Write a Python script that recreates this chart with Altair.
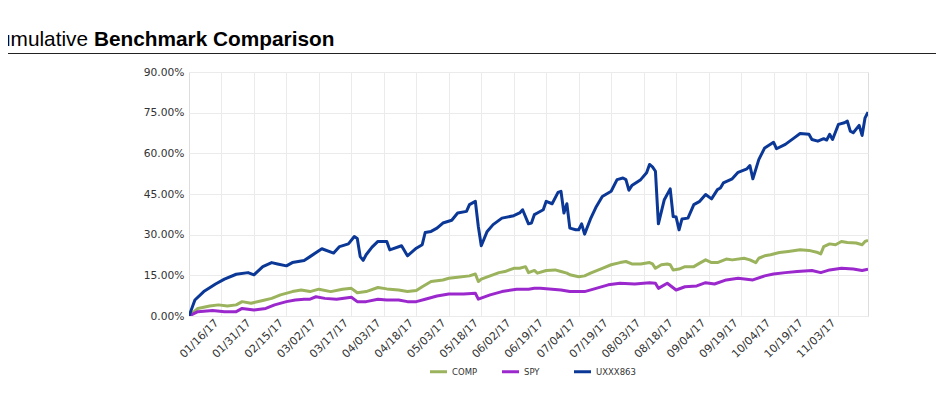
import altair as alt
import pandas as pd

# ---- data (x = trading-day index, y = cumulative %) ----
tick_labels = ["01/16/17", "01/31/17", "02/15/17", "03/02/17", "03/17/17", "04/03/17",
               "04/18/17", "05/03/17", "05/18/17", "06/02/17", "06/19/17", "07/04/17",
               "07/19/17", "08/03/17", "08/18/17", "09/04/17", "09/19/17", "10/04/17",
               "10/19/17", "11/03/17"]
tick_step = 11

series_names = ["COMP", "SPY", "UXXX863"]
series_colors = ["#9bb35c", "#9b28cc", "#0b3896"]

comp_idx = [0, 3, 7, 10, 13, 16, 18, 21, 25, 28, 31, 35, 38, 41, 44, 48, 52, 55, 57, 60,
            64, 67, 71, 74, 77, 79, 82, 86, 88, 91, 95, 97, 98, 99, 102, 105, 107, 110, 112,
            114, 115, 117, 118, 121, 124, 126, 128, 129, 132, 134, 136, 140, 143, 146, 148,
            150, 153, 156, 157, 158, 160, 162, 163, 164, 166, 168, 171, 173, 175, 177, 179,
            182, 184, 188, 190, 192, 193, 195, 197, 200, 203, 207, 210, 213, 214, 215, 217,
            219, 221, 223, 226, 228, 229, 230]
comp_val = [0.0, 2.8, 3.7, 4.1, 3.7, 4.1, 5.3, 4.7, 5.7, 6.5, 7.8, 9.0, 9.6, 9.0, 9.9, 9.0,
            9.9, 10.2, 8.6, 9.0, 10.5, 10.0, 9.6, 9.0, 9.4, 10.8, 12.7, 13.3, 13.9, 14.3, 14.8,
            15.5, 12.7, 13.6, 14.8, 16.0, 16.4, 17.6, 17.6, 18.2, 16.0, 16.8, 15.8, 16.8, 17.0,
            16.4, 15.8, 15.2, 14.5, 14.8, 15.8, 17.6, 18.9, 19.7, 20.1, 19.2, 19.2, 19.7, 19.2,
            17.6, 18.9, 19.2, 18.9, 17.0, 17.3, 18.2, 18.2, 19.5, 20.7, 19.7, 19.7, 21.0, 20.7,
            21.3, 20.7, 19.7, 21.3, 22.2, 22.6, 23.4, 23.8, 24.4, 24.2, 23.4, 22.9, 25.6, 26.6,
            26.3, 27.5, 27.1, 26.9, 26.3, 27.5, 27.9]

spy_idx = [0, 3, 8, 12, 16, 18, 22, 26, 29, 33, 36, 39, 41, 43, 46, 50, 55, 57, 60, 64, 67,
           71, 74, 77, 80, 84, 88, 93, 97, 98, 102, 106, 111, 115, 117, 119, 123, 126, 129,
           134, 137, 142, 146, 151, 156, 158, 159, 162, 165, 168, 172, 175, 178, 182, 186,
           191, 195, 198, 202, 206, 211, 214, 217, 221, 225, 228, 230]
spy_val = [0.0, 1.6, 2.0, 1.6, 1.6, 2.8, 2.2, 2.8, 4.1, 5.3, 5.9, 6.2, 6.2, 7.1, 6.5, 6.2,
           6.9, 5.3, 5.3, 6.2, 5.9, 5.9, 5.3, 5.3, 6.2, 7.4, 8.1, 8.1, 8.4, 6.2, 7.8, 9.0, 9.9,
           9.9, 10.2, 10.2, 9.9, 9.6, 9.0, 9.0, 9.9, 11.5, 12.1, 11.8, 12.3, 12.1, 10.2, 12.1,
           9.6, 10.8, 11.1, 12.3, 11.8, 13.3, 13.9, 13.3, 14.8, 15.5, 16.0, 16.4, 16.8, 16.0,
           17.0, 17.6, 17.3, 16.8, 17.3]

uxxx_idx = [0, 2, 5, 9, 12, 16, 20, 22, 25, 28, 30, 33, 35, 39, 41, 45, 49, 51, 54, 56, 57,
            58, 59, 60, 62, 64, 67, 68, 72, 74, 77, 79, 80, 82, 84, 86, 89, 91, 94, 95, 97,
            98, 99, 101, 103, 106, 110, 112, 113, 115, 116, 117, 118, 120, 121, 123, 125, 126,
            127, 128, 129, 131, 132, 133, 134, 136, 138, 140, 143, 145, 147, 148, 149, 150,
            153, 155, 156, 157, 158, 159, 161, 163, 164, 165, 166, 167, 169, 171, 173, 175,
            177, 179, 180, 181, 184, 186, 189, 190, 191, 193, 195, 198, 199, 202, 205, 207,
            210, 211, 213, 215, 216, 217, 218, 220, 222, 223, 224, 225, 227, 228, 229, 230]
uxxx_val = [0.0, 5.9, 9.0, 11.8, 13.6, 15.4, 16.0, 15.2, 18.2, 19.7, 19.2, 18.5, 19.7, 20.5,
            21.9, 24.8, 23.2, 25.6, 26.6, 29.3, 28.6, 21.9, 20.5, 22.6, 25.4, 27.5, 27.5, 24.4,
            25.9, 22.2, 25.0, 26.3, 30.8, 31.2, 32.4, 34.3, 35.3, 38.0, 38.6, 41.1, 42.3, 33.0,
            25.9, 31.2, 33.7, 36.1, 37.0, 38.0, 39.2, 34.0, 34.3, 37.4, 38.0, 39.2, 42.3, 41.4,
            45.6, 46.0, 38.0, 41.4, 32.4, 31.8, 31.8, 34.0, 30.2, 35.8, 40.4, 44.1, 46.0, 50.3,
            50.9, 50.3, 46.4, 48.1, 50.3, 52.8, 55.9, 55.0, 53.4, 34.0, 42.9, 46.9, 36.7, 36.5,
            31.8, 35.8, 36.1, 41.1, 42.3, 44.8, 43.2, 46.6, 47.2, 49.1, 50.6, 53.0, 54.3, 55.5,
            50.6, 57.7, 62.0, 64.1, 61.7, 63.3, 65.7, 67.3, 67.0, 65.1, 64.5, 65.4, 64.9, 67.0,
            65.1, 70.7, 71.3, 71.9, 68.2, 67.6, 70.3, 66.6, 73.1, 75.2]

y_ticks = [0, 15, 30, 45, 60, 75, 90]

# ---- build long table ----
rows = []
for name, idx, val in [("COMP", comp_idx, comp_val), ("SPY", spy_idx, spy_val),
                       ("UXXX863", uxxx_idx, uxxx_val)]:
    for i, v in zip(idx, val):
        rows.append({"series": name, "day": i, "ret": v})
df = pd.DataFrame(rows)

tick_values = [tick_step * (k + 1) for k in range(len(tick_labels))]
label_expr = "[" + ",".join("'%s'" % t for t in tick_labels) + "][round(datum.value/%d)-1]" % tick_step

W, H = 679, 244
FONT = "DejaVu Sans"

lines = alt.Chart(df).mark_line(strokeWidth=3, strokeJoin="round", clip=True).encode(
    x=alt.X("day:Q", scale=alt.Scale(domain=[0, 230], nice=False, zero=False),
            axis=alt.Axis(values=tick_values, labelExpr=label_expr, title=None,
                          labelAngle=-45, labelAlign="right", labelBaseline="middle",
                          labelFont=FONT, labelFontSize=11, labelColor="#333333",
                          ticks=False, domain=False, labelPadding=5, labelOffset=-5,
                          grid=True, gridColor="#ebebeb", labelOverlap=False)),
    y=alt.Y("ret:Q", scale=alt.Scale(domain=[0, 90], nice=False),
            axis=alt.Axis(values=y_ticks, labelExpr="format(datum.value, '.2f') + '%'",
                          title=None, labelFont=FONT, labelFontSize=10.7,
                          labelColor="#333333", ticks=False, domain=False,
                          labelPadding=5, grid=True, gridColor="#ebebeb")),
    color=alt.Color("series:N",
                    scale=alt.Scale(domain=series_names, range=series_colors),
                    legend=alt.Legend(title=None, orient="none", direction="horizontal",
                                      legendX=239, legendY=289, padding=0,
                                      symbolType="stroke", symbolSize=290,
                                      symbolStrokeWidth=3, labelFont=FONT,
                                      labelFontSize=8.5, labelColor="#333333",
                                      labelOffset=3, columnPadding=3, gridAlign="all")),
    order=alt.Order("series:N"),
)

title_normal = alt.Chart(pd.DataFrame({"t": ["Cumulative"]})).mark_text(
    font="Liberation Sans", fontSize=20.8, align="left", baseline="alphabetic",
    color="#000000").encode(x=alt.value(-205), y=alt.value(-26), text="t:N")
title_bold = alt.Chart(pd.DataFrame({"t": ["Benchmark Comparison"]})).mark_text(
    font="Liberation Sans", fontSize=20.8, fontWeight="bold", align="left",
    baseline="alphabetic", color="#000000").encode(x=alt.value(-95), y=alt.value(-26),
                                                   text="t:N")
title_rule = alt.Chart(pd.DataFrame({"a": [0]})).mark_rule(
    color="#222222", strokeWidth=1.2).encode(x=alt.value(-181), x2=alt.value(747),
                                             y=alt.value(-18.5))

chart = alt.layer(title_rule, title_normal, title_bold, lines).properties(
    width=W, height=H,
    autosize=alt.AutoSizeParams(type="none"),
    padding={"left": 181, "top": 64, "right": 68, "bottom": 70},
).configure_view(stroke="#e6e6e6").configure(background="white")

chart.save("out.html", embed_options={"renderer": "svg", "actions": False})
